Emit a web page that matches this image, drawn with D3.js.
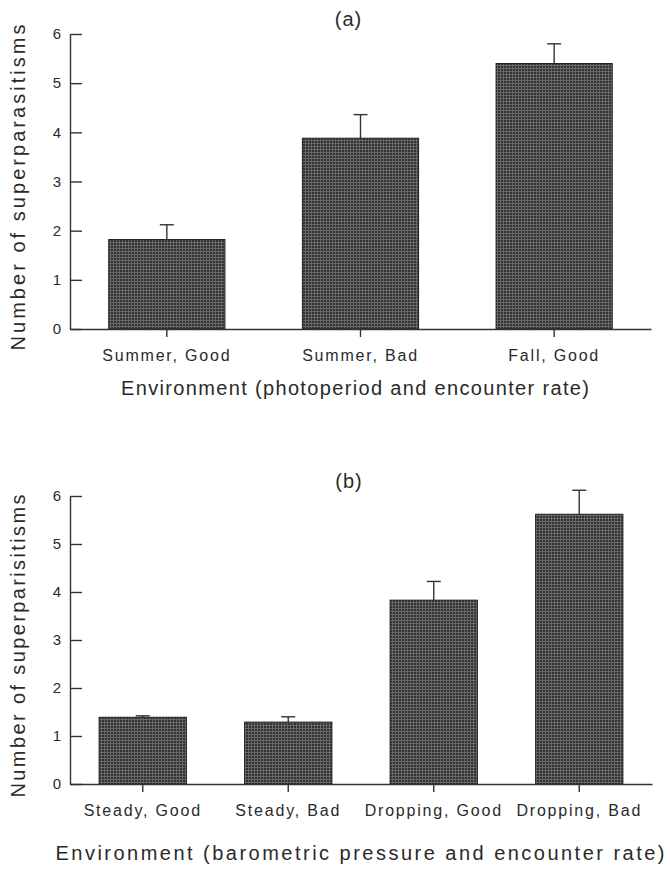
<!DOCTYPE html>
<html>
<head>
<meta charset="utf-8">
<script src="https://cdn.jsdelivr.net/npm/d3@7"></script>
<style>
    body { margin: 0; background: #fff; }
    svg { display: block; font-family: "Liberation Sans", Arial, sans-serif; }
    .axis path, .axis line { stroke: #333; stroke-width: 1.4; }
    .axis text { fill: #2a2a2a; }
</style>
</head>
<body>
<svg width="670" height="870"></svg>
<script>
// panel (a)
const catsA = ["Summer, Good", "Summer, Bad", "Fall, Good"];
const meansA = [1.82, 3.88, 5.4];
const errA = [0.3, 0.48, 0.4];

// panel (b)
const catsB = ["Steady, Good", "Steady, Bad", "Dropping, Good", "Dropping, Bad"];
const meansB = [1.39, 1.29, 3.83, 5.62];
const errB = [0.03, 0.11, 0.39, 0.5];

const yTicks = [0, 1, 2, 3, 4, 5, 6];

const svg = d3.select("svg");

// fine screen texture of the bars
const pat = svg.append("defs").append("pattern")
    .attr("id", "screen")
    .attr("width", 3)
    .attr("height", 3)
    .attr("patternUnits", "userSpaceOnUse");
pat.append("rect").attr("width", 3).attr("height", 3).attr("fill", "#686868");
pat.append("rect").attr("width", 2).attr("height", 2).attr("fill", "#303030");

function panel(obj) {
    const { cats, means, errs, left, right, top, bottom, title, xTitle, xTitleX, xTitleLen, xTitleDy, yTitle, yTitleLen } = obj;

    const x = d3.scaleBand().domain(cats).range([left, right]).paddingInner(0.4).paddingOuter(0.2);
    const y = d3.scaleLinear().domain([0, 6]).range([bottom, top]);
    const g = svg.append("g");

    g.selectAll(".bar")
        .data(cats)
        .enter().append("rect")
        .attr("class", "bar")
        .attr("x", d => x(d))
        .attr("width", x.bandwidth())
        .attr("y", (d, i) => y(means[i]))
        .attr("height", (d, i) => y(0) - y(means[i]))
        .attr("fill", "url(#screen)")
        .attr("stroke", "#222")
        .attr("stroke-width", 1);

    // error bars, upper half only
    const eb = g.selectAll(".err")
        .data(cats)
        .enter().append("g")
        .attr("class", "err")
        .attr("stroke", "#333")
        .attr("stroke-width", 1.4);
    eb.append("line")
        .attr("x1", d => x(d) + x.bandwidth() / 2)
        .attr("x2", d => x(d) + x.bandwidth() / 2)
        .attr("y1", (d, i) => y(means[i]))
        .attr("y2", (d, i) => y(means[i] + errs[i]));
    eb.append("line")
        .attr("x1", d => x(d) + x.bandwidth() / 2 - 7)
        .attr("x2", d => x(d) + x.bandwidth() / 2 + 7)
        .attr("y1", (d, i) => y(means[i] + errs[i]))
        .attr("y2", (d, i) => y(means[i] + errs[i]));

    g.append("g")
        .attr("class", "axis")
        .attr("transform", "translate(" + left + ",0)")
        .call(d3.axisLeft(y).tickValues(yTicks).tickFormat(d3.format("d")).tickSizeInner(-12).tickSizeOuter(0).tickPadding(9))
        .call(a => a.selectAll("text").style("font-size", "15px"));

    g.append("g")
        .attr("class", "axis")
        .attr("transform", "translate(0," + bottom + ")")
        .call(d3.axisBottom(x).tickSizeInner(8).tickSizeOuter(0).tickPadding(13))
        .call(a => a.selectAll("text").style("font-size", "16px").style("letter-spacing", "1.8px"));

    g.append("text")
        .attr("x", (left + right) / 2 - 12)
        .attr("y", top - 8)
        .attr("text-anchor", "middle")
        .style("font-size", "20px")
        .style("letter-spacing", "1px")
        .attr("fill", "#2a2a2a")
        .text(title);

    g.append("text")
        .attr("x", xTitleX)
        .attr("y", bottom + xTitleDy)
        .attr("text-anchor", "middle")
        .attr("textLength", xTitleLen)
        .attr("lengthAdjust", "spacing")
        .style("font-size", "20px")
        .attr("fill", "#2a2a2a")
        .text(xTitle);

    g.append("text")
        .attr("transform", "translate(25," + ((top + bottom) / 2 + 6) + ") rotate(-90)")
        .attr("text-anchor", "middle")
        .attr("textLength", yTitleLen)
        .attr("lengthAdjust", "spacing")
        .style("font-size", "20px")
        .attr("fill", "#2a2a2a")
        .text(yTitle);
}

panel({
    cats: catsA, means: meansA, errs: errA,
    left: 70, right: 651, top: 34, bottom: 329,
    title: "(a)",
    xTitle: "Environment (photoperiod and encounter rate)", xTitleX: 355, xTitleLen: 468, xTitleDy: 66,
    yTitle: "Number of superparasitisms", yTitleLen: 326
});

panel({
    cats: catsB, means: meansB, errs: errB,
    left: 70, right: 652, top: 496, bottom: 784,
    title: "(b)",
    xTitle: "Environment (barometric pressure and encounter rate)", xTitleX: 360, xTitleLen: 609, xTitleDy: 76,
    yTitle: "Number of superparisitisms", yTitleLen: 303
});
</script>
</body>
</html>
